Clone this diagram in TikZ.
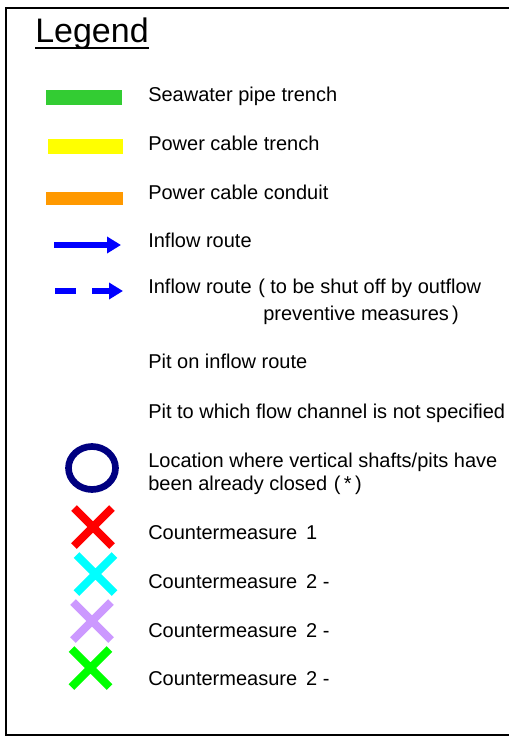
\documentclass[tikz,border=0pt]{standalone}
\usepackage{fontspec}
\setmainfont{Liberation Sans}
\usetikzlibrary{arrows.meta}
\definecolor{seagreen}{HTML}{33CC33}
\definecolor{cableyellow}{HTML}{FFFF00}
\definecolor{conduitorange}{HTML}{FF9900}
\definecolor{closednavy}{HTML}{000080}
\definecolor{cmred}{HTML}{FF0000}
\definecolor{cmcyan}{HTML}{00FFFF}
\definecolor{cmlilac}{HTML}{CC99FF}
\definecolor{cmgreen}{HTML}{00FF00}

\begin{document}
\begin{tikzpicture}[x=0.75pt, y=-0.75pt,
    every node/.style={font=\fontsize{15}{18}\selectfont, inner sep=0pt},
    lbl/.style={anchor=base west},
    route/.style={draw=blue, line width=3.9pt, -{Triangle[length=10.5pt, width=12pt]}},
    cross/.style={line width=6pt}]
                \useasboundingbox (0,0) rectangle (509,742);
                \clip (0,0) rectangle (509,742);
                % frame, open on the right
                \draw[line width=1.6pt] (600,8) -- (6,8) -- (6,735) -- (600,735);
                % title
                \node[lbl, font=\fontsize{25.5}{30}\selectfont] (title) at (35,43) {Legend};
                \draw[line width=1.5pt] ([yshift=-3.6pt]title.base west) -- ([yshift=-3.6pt]title.base east);
                % trenches and conduit
                \fill[seagreen] (46,90) rectangle (122,105);
                \node[lbl] (sea) at (148,102) {Seawater pipe trench};
                \fill[cableyellow] (48,139) rectangle (123,154);
                \node[lbl] (cable) at (148,150) {Power cable trench};
                \fill[conduitorange] (46,192) rectangle (123,205);
                \node[lbl] (conduit) at (148,199) {Power cable conduit};
                % inflow routes
                \draw[route] (54,245) -- (121,245);
                \node[lbl] (inflow) at (148,247) {Inflow route};
                \draw[route, dash pattern=on 15.75pt off 12pt] (55,291) -- (123,291);
                \node[lbl] (shutoff) at (148,293) {Inflow route\hspace{5pt}(\hspace{4pt}to be shut off by outflow};
                \node[lbl] (shutoff2) at (263,320) {preventive measures\,)};
                % pits
                \node[lbl] (pit) at (148,368) {Pit on inflow route};
                \node[lbl] (pitopen) at (148,418) {Pit to which flow channel is not specified};
                \draw[closednavy, line width=5pt] (92,468) ellipse [x radius=23.5, y radius=21.5];
                \node[lbl] (closed) at (148,467) {Location where vertical shafts/pits have};
                \node[lbl] (closed2) at (148,490) {been already closed\hspace{5pt}(\,*\,)};
                % countermeasures
                \foreach \cx/\cy/\col in {93/527/cmred, 95.5/574/cmcyan, 92/621/cmlilac, 90.5/668/cmgreen}
                    \draw[cross, \col] (\cx-19,\cy-19) -- (\cx+19,\cy+19)
                                       (\cx-19,\cy+19) -- (\cx+19,\cy-19);
                \node[lbl] (cm1) at (148,539) {Countermeasure\, 1};
                \node[lbl] (cm2) at (148,588) {Countermeasure\, 2 -};
                \node[lbl] (cm3) at (148,637) {Countermeasure\, 2 -};
                \node[lbl] (cm4) at (148,685) {Countermeasure\, 2 -};
            \end{tikzpicture}
\end{document}
